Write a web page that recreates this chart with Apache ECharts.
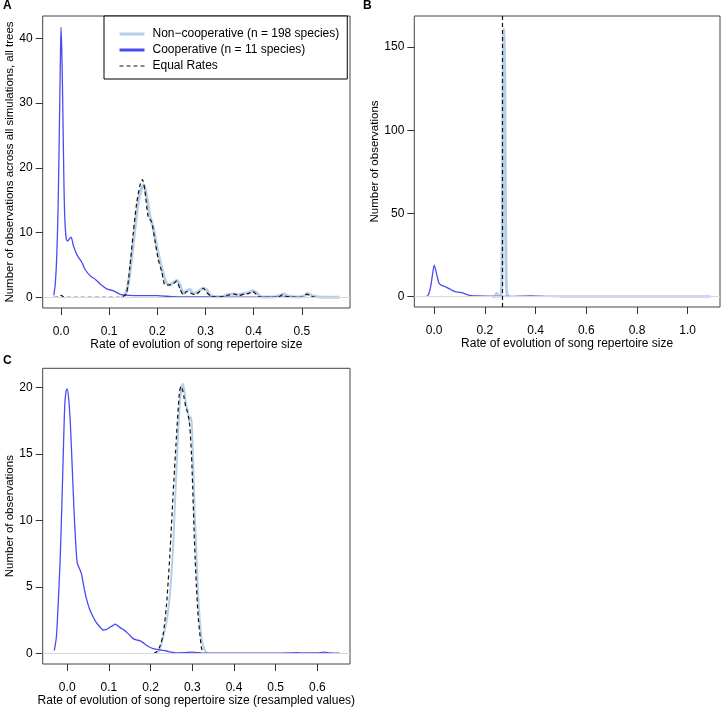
<!DOCTYPE html>
<html>
<head>
<meta charset="utf-8">
<script src="https://cdn.jsdelivr.net/npm/echarts@6/dist/echarts.min.js"></script>
<style>
html,body{margin:0;padding:0;background:#fff;}
#chart{width:722px;height:713px;}
</style>
</head>
<body>
<div id="chart"></div>
<script>
// ---------- data (x = rate, y = number of observations) ----------
const seriesNames = ["Non\u2212cooperative (n = 198 species)", "Cooperative (n = 11 species)", "Equal Rates"];

// Panel A
const nonCoopA = [[0.125,0],[0.133,0.35],[0.14,2.2],[0.147,6.3],[0.154,10.9],[0.16,14.5],[0.167,16.8],[0.172,17.4],[0.178,15.5],[0.185,12.4],[0.191,10.9],[0.199,7.8],[0.205,5.8],[0.212,3.7],[0.219,2.2],[0.226,1.9],[0.233,2.3],[0.241,2.6],[0.247,1.9],[0.254,0.6],[0.261,1.0],[0.268,1.2],[0.274,0.6],[0.285,0.9],[0.295,1.4],[0.302,1.2],[0.309,0.4],[0.32,0.1],[0.335,0.1],[0.345,0.4],[0.36,0.5],[0.37,0.4],[0.38,0.6],[0.39,0.7],[0.398,1.0],[0.406,0.7],[0.415,0.1],[0.44,0.05],[0.455,0.3],[0.462,0.5],[0.47,0.2],[0.49,0.05],[0.505,0.2],[0.512,0.6],[0.52,0.3],[0.535,0.05],[0.55,0.02],[0.578,0]];
const coopA = [[-0.015,0.3],[-0.012,2],[-0.009,6],[-0.006,14],[-0.003,28],[-0.001,38],[0,41.7],[0.002,37],[0.004,28],[0.006,18],[0.008,12],[0.011,9.0],[0.014,8.7],[0.018,9.1],[0.021,9.3],[0.026,7.9],[0.033,6.6],[0.044,5.3],[0.05,4.3],[0.061,3.3],[0.071,2.8],[0.082,2.0],[0.095,1.3],[0.109,1.0],[0.123,0.45],[0.14,0.3],[0.17,0.25],[0.2,0.25],[0.23,0.1],[0.26,0.05],[0.3,0.05],[0.35,0.02],[0.4,0.02],[0.45,0.02],[0.5,0]];
const equalA = [[-0.015,0],[-0.005,0.05],[0,0.3],[0.006,0.05],[0.02,0],[0.12,0],[0.13,0.2],[0.136,0.6],[0.143,4.7],[0.15,9.9],[0.157,14.5],[0.164,17.3],[0.169,18.2],[0.174,16.6],[0.181,12.4],[0.188,11.7],[0.195,8.8],[0.202,5.8],[0.209,4.0],[0.216,1.9],[0.223,1.9],[0.233,2.1],[0.24,2.5],[0.247,1.3],[0.254,0.4],[0.261,0.9],[0.268,0.7],[0.278,0.4],[0.288,0.9],[0.295,1.4],[0.303,0.7],[0.312,0.15],[0.325,0],[0.345,0.3],[0.36,0.5],[0.37,0.3],[0.38,0.5],[0.39,0.6],[0.398,0.9],[0.405,0.5],[0.415,0],[0.45,0],[0.46,0.4],[0.47,0.1],[0.5,0],[0.51,0.5],[0.52,0.1],[0.53,0]];

// Panel B
const nonCoopB = [[0.23,0],[0.242,0.3],[0.247,2],[0.252,0.3],[0.262,0.5],[0.267,10],[0.27,70],[0.273,150],[0.275,161],[0.278,140],[0.281,60],[0.284,10],[0.288,1],[0.295,0]];
const coopB = [[-0.03,0],[-0.022,1.5],[-0.014,6],[-0.007,13],[0,19],[0.006,16],[0.012,12],[0.018,8.5],[0.024,7.3],[0.035,6.5],[0.049,5.6],[0.065,4.3],[0.082,3],[0.1,2.6],[0.114,2.2],[0.13,1.3],[0.147,0.6],[0.17,0.4],[0.2,0.3],[0.25,0.2],[0.3,0.2],[0.38,0.5],[0.45,0.2],[0.6,0.1],[0.8,0.1],[1.0,0.1],[1.09,0.1]];
const equalB = [0.266];

// Panel C
const nonCoopC = [[0.214,0],[0.222,0.3],[0.23,1.2],[0.238,2.3],[0.246,4.3],[0.25,6],[0.254,8],[0.258,11],[0.262,13.8],[0.266,16.5],[0.27,18.8],[0.274,19.9],[0.277,20.3],[0.281,19.8],[0.285,18.8],[0.29,18.1],[0.293,17.4],[0.296,17.8],[0.299,17.2],[0.302,14.5],[0.306,10.5],[0.31,7.5],[0.314,4.5],[0.318,2.5],[0.322,1.2],[0.326,0.6],[0.33,0.2],[0.336,0]];
const coopC = [[-0.031,0.2],[-0.026,1.2],[-0.022,3.5],[-0.017,7],[-0.013,11],[-0.009,15.5],[-0.006,18.6],[-0.003,19.7],[0,19.9],[0.004,19],[0.008,17],[0.012,14],[0.016,11],[0.02,8.5],[0.024,6.8],[0.029,6.4],[0.034,6.0],[0.04,5],[0.047,4.0],[0.054,3.3],[0.062,2.75],[0.07,2.3],[0.078,2.0],[0.086,1.75],[0.094,1.8],[0.102,1.95],[0.11,2.1],[0.115,2.2],[0.12,2.1],[0.126,1.95],[0.134,1.8],[0.142,1.6],[0.15,1.35],[0.158,1.1],[0.166,1.0],[0.174,0.95],[0.182,0.8],[0.19,0.6],[0.198,0.45],[0.206,0.35],[0.222,0.25],[0.238,0.17],[0.25,0.08],[0.262,0.03],[0.28,0.04],[0.3,0.08],[0.315,0.04],[0.33,0],[0.4,0],[0.5,0],[0.53,0.02],[0.55,0.05],[0.57,0.02],[0.6,0.03],[0.615,0.08],[0.63,0.03],[0.653,0]];
const equalC = [[0.208,0],[0.214,0.1],[0.222,0.5],[0.23,1.4],[0.238,3.6],[0.246,7.3],[0.254,12],[0.262,16.3],[0.269,19.6],[0.273,20.1],[0.277,19.8],[0.28,19.3],[0.284,18.6],[0.288,18.2],[0.291,17.8],[0.294,17.1],[0.298,15],[0.301,12.5],[0.304,9.5],[0.307,7],[0.31,5],[0.314,2.8],[0.318,1.5],[0.322,0.4],[0.326,0]];

// tick labels
const xTicksA = [0, 0.1, 0.2, 0.3, 0.4, 0.5];
const yTicksA = [0, 10, 20, 30, 40];
const xTicksB = [0, 0.2, 0.4, 0.6, 0.8, 1.0];
const yTicksB = [0, 50, 100, 150];
const xTicksC = [0, 0.1, 0.2, 0.3, 0.4, 0.5, 0.6];
const yTicksC = [0, 5, 10, 15, 20];

// ---------- styling ----------
const FONT = '"Liberation Sans", Arial, Helvetica, sans-serif';
const C_NON = '#b7cfe6';
const C_COOP = '#4b4bf2';
const C_EQ = '#111111';
const FRAME = '#444';

function xAxisDef(gi, min, max, ticks, name) {
  return {
    type: 'value', gridIndex: gi, min: min, max: max,
    name: name, nameLocation: 'middle', nameGap: 31,
    nameTextStyle: {fontFamily: FONT, fontSize: 12, color: '#000'},
    axisLine: {show: false, onZero: false},
    splitLine: {show: false},
    axisTick: {show: true, length: 7, lineStyle: {color: '#333'}, customValues: ticks},
    axisLabel: {show: true, margin: 18, fontFamily: FONT, fontSize: 12, color: '#000',
      customValues: ticks, formatter: v => v.toFixed(1)}
  };
}
function yAxisDef(gi, min, max, ticks, name, gap) {
  return {
    type: 'value', gridIndex: gi, min: min, max: max,
    name: name, nameLocation: 'middle', nameGap: gap, nameRotate: 90,
    nameTextStyle: {fontFamily: FONT, fontSize: 11.5, color: '#000'},
    axisLine: {show: false, onZero: false},
    splitLine: {show: false},
    axisTick: {show: true, length: 7, lineStyle: {color: '#333'}, customValues: ticks},
    axisLabel: {show: true, margin: 10, fontFamily: FONT, fontSize: 12, color: '#000',
      customValues: ticks, formatter: v => String(v)}
  };
}
const zeroLine = {
  silent: true, symbol: 'none', label: {show: false},
  lineStyle: {color: '#d8d8d8', width: 1, type: 'solid'},
  data: [{yAxis: 0}]
};
function lineSeries(name, gi, data, color, width, dashed, withZero) {
  const s = {
    type: 'line', name: name, xAxisIndex: gi, yAxisIndex: gi, data: data,
    symbol: 'none', smooth: 0.25, animation: false,
    lineStyle: {color: color, width: width, type: dashed ? [4, 3] : 'solid'},
    itemStyle: {color: color}
  };
  if (withZero) s.markLine = zeroLine;
  return s;
}

const chart = echarts.init(document.getElementById('chart'), null, {renderer: 'canvas'});
const option = {
  backgroundColor: '#fff',
  animation: false,
  title: [
    {text: 'A', left: 3, top: 0, padding: 0, textStyle: {fontFamily: FONT, fontSize: 12, fontWeight: 'bold', color: '#000'}},
    {text: 'B', left: 363, top: 0, padding: 0, textStyle: {fontFamily: FONT, fontSize: 12, fontWeight: 'bold', color: '#000'}},
    {text: 'C', left: 3, top: 355, padding: 0, textStyle: {fontFamily: FONT, fontSize: 12, fontWeight: 'bold', color: '#000'}}
  ],
  legend: {
    left: 104, top: 16, orient: 'vertical',
    padding: [12, 8, 7, 14],
    borderColor: '#000', borderWidth: 1, backgroundColor: '#fff',
    itemWidth: 25, itemHeight: 12, itemGap: 4,
    itemStyle: {opacity: 0},
    textStyle: {fontFamily: FONT, fontSize: 12, color: '#000', padding: [0, 0, 0, 3]},
    data: [
      {name: seriesNames[0], lineStyle: {width: 3}},
      {name: seriesNames[1], lineStyle: {width: 3}},
      {name: seriesNames[2], lineStyle: {width: 1.2}}
    ]
  },
  grid: [
    {left: 42.7, top: 16, width: 307.3, height: 292, show: true, borderColor: FRAME, borderWidth: 1, backgroundColor: 'transparent'},
    {left: 414.3, top: 16, width: 305.7, height: 291, show: true, borderColor: FRAME, borderWidth: 1, backgroundColor: 'transparent'},
    {left: 42.7, top: 368.3, width: 307.3, height: 295.7, show: true, borderColor: FRAME, borderWidth: 1, backgroundColor: 'transparent'}
  ],
  xAxis: [
    xAxisDef(0, -0.038, 0.6, xTicksA, 'Rate of evolution of song repertoire size'),
    xAxisDef(1, -0.0785, 1.1275, xTicksB, 'Rate of evolution of song repertoire size'),
    xAxisDef(2, -0.0588, 0.6783, xTicksC, 'Rate of evolution of song repertoire size (resampled values)')
  ],
  yAxis: [
    yAxisDef(0, -1.65, 43.45, yTicksA, 'Number of observations across all simulations, all trees', 27),
    yAxisDef(1, -6.2, 168.7, yTicksB, 'Number of observations', 33),
    yAxisDef(2, -0.81, 21.46, yTicksC, 'Number of observations', 27)
  ],
  series: [
    lineSeries(seriesNames[0], 0, nonCoopA, C_NON, 3, false, true),
    lineSeries(seriesNames[1], 0, coopA, C_COOP, 1.3, false, false),
    lineSeries(seriesNames[2], 0, equalA, C_EQ, 1.2, true, false),

    lineSeries(seriesNames[0], 1, nonCoopB, C_NON, 3, false, true),
    lineSeries(seriesNames[1], 1, coopB, C_COOP, 1.3, false, false),
    Object.assign(lineSeries(seriesNames[2], 1, [], C_EQ, 1.2, true, false), {
      markLine: {
        silent: true, symbol: 'none', label: {show: false},
        lineStyle: {color: C_EQ, width: 1.2, type: [4, 3]},
        data: equalB.map(v => ({xAxis: v}))
      }
    }),

    lineSeries(seriesNames[0], 2, nonCoopC, C_NON, 2, false, true),
    lineSeries(seriesNames[1], 2, coopC, C_COOP, 1.3, false, false),
    lineSeries(seriesNames[2], 2, equalC, C_EQ, 1.2, true, false)
  ]
};
chart.setOption(option);
</script>
</body>
</html>
